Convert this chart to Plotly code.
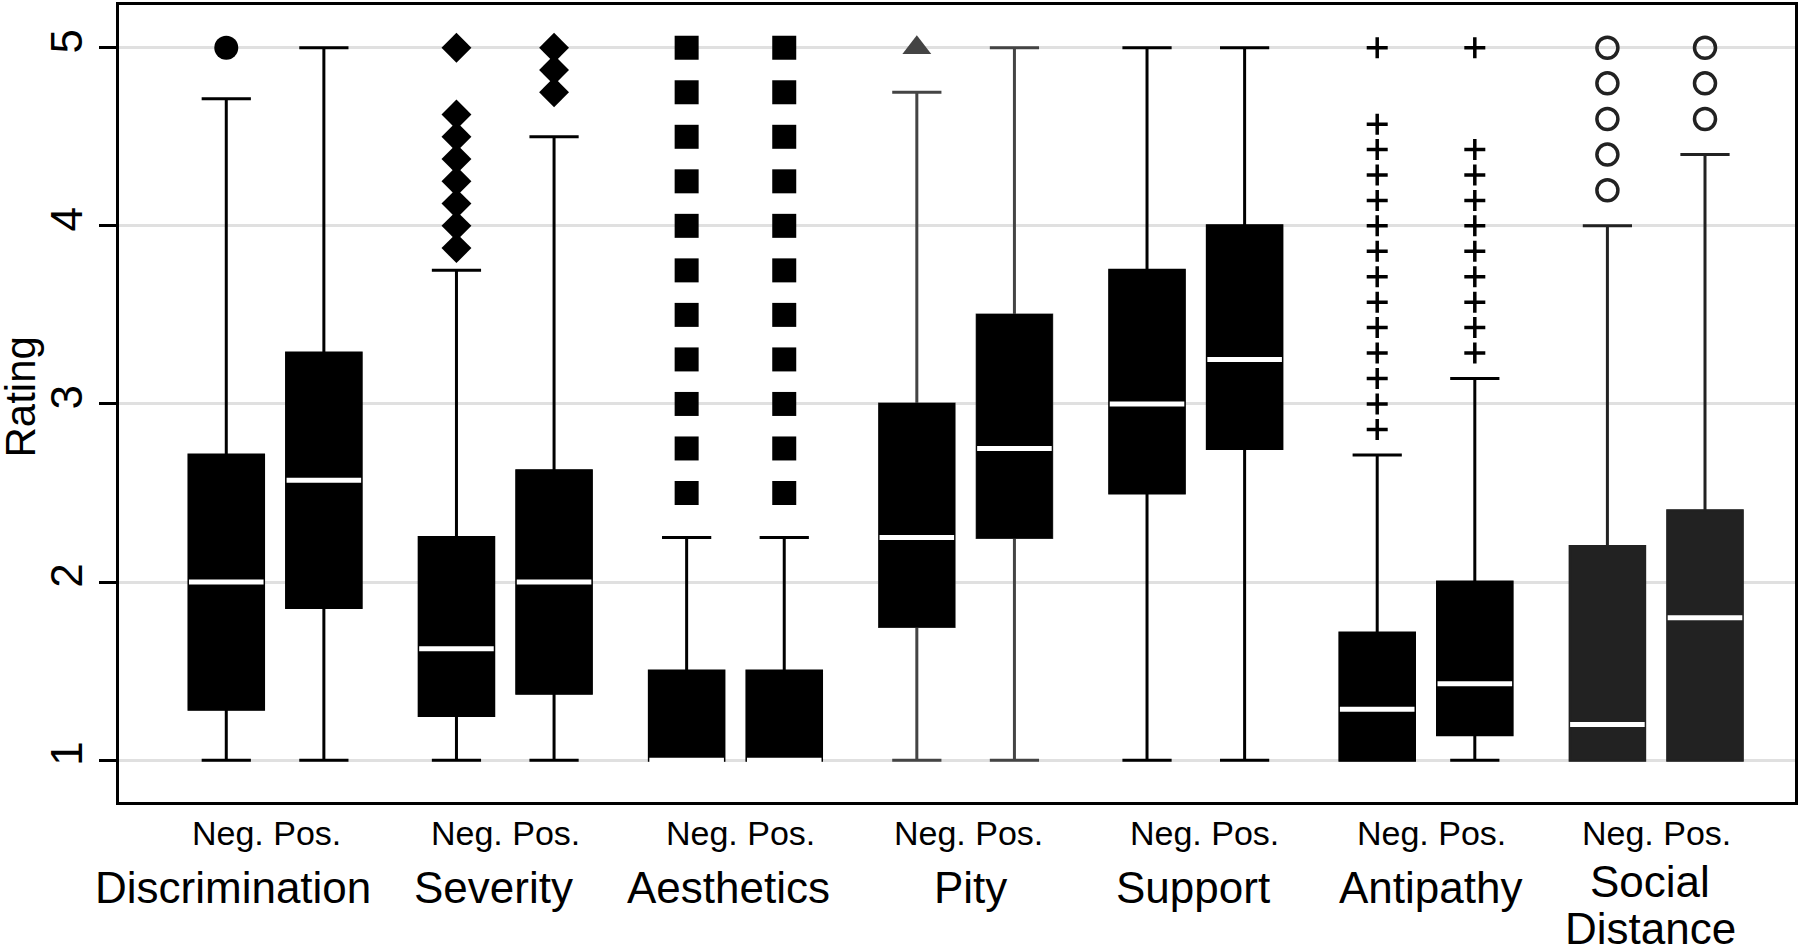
import plotly.graph_objects as go

categories = ["Discrimination", "Severity", "Aesthetics", "Pity", "Support", "Antipathy", "Social Distance"]
groups = ["Neg.", "Pos."]

# box statistics (ratings 1-5)
neg_q1 = [1.286, 1.25, 1.0, 1.75, 2.5, 1.0, 1.0]
neg_median = [2.0, 1.625, 1.0, 2.25, 3.0, 1.286, 1.2]
neg_q3 = [2.714, 2.25, 1.5, 3.0, 3.75, 1.714, 2.2]
neg_lower = [1.0, 1.0, 1.0, 1.0, 1.0, 1.0, 1.0]
neg_upper = [4.714, 3.75, 2.25, 4.75, 5.0, 2.714, 4.0]

pos_q1 = [1.857, 1.375, 1.0, 2.25, 2.75, 1.143, 1.0]
pos_median = [2.571, 2.0, 1.0, 2.75, 3.25, 1.429, 1.8]
pos_q3 = [3.286, 2.625, 1.5, 3.5, 4.0, 2.0, 2.4]
pos_lower = [1.0, 1.0, 1.0, 1.0, 1.0, 1.0, 1.0]
pos_upper = [5.0, 4.5, 2.25, 5.0, 5.0, 3.143, 4.4]

neg_outliers = [
    [5.0],
    [5.0, 4.625, 4.5, 4.375, 4.25, 4.125, 4.0, 3.875],
    [5.0, 4.75, 4.5, 4.25, 4.0, 3.75, 3.5, 3.25, 3.0, 2.75, 2.5],
    [5.0],
    [],
    [5.0, 4.571, 4.429, 4.286, 4.143, 4.0, 3.857, 3.714, 3.571, 3.429, 3.286, 3.143, 3.0, 2.857],
    [5.0, 4.8, 4.6, 4.4, 4.2],
]
pos_outliers = [
    [],
    [5.0, 4.875, 4.75],
    [5.0, 4.75, 4.5, 4.25, 4.0, 3.75, 3.5, 3.25, 3.0, 2.75, 2.5],
    [],
    [],
    [5.0, 4.429, 4.286, 4.143, 4.0, 3.857, 3.714, 3.571, 3.429, 3.286],
    [5.0, 4.8, 4.6],
]

y_ticks = [1, 2, 3, 4, 5]

# per-category look (stata-ish marker per scale)
markers = [
    dict(symbol="circle", size=24),
    dict(symbol="diamond", size=23),
    dict(symbol="square", size=24),
    dict(symbol="triangle-up", size=25),
    dict(symbol="circle", size=1),
    dict(symbol="cross-thin", size=15, line=dict(width=3.5)),
    dict(symbol="circle-open", size=21, line=dict(width=3.5)),
]
line_colors = ["black", "black", "black", "#444444", "black", "black", "#222222"]
fill_colors = ["black", "black", "black", "black", "black", "black", "#222222"]

FONT = "Liberation Sans, Arial, sans-serif"
offset = 0.212
box_w = 0.324

fig = go.Figure()

for i, cat in enumerate(categories):
    xs = [i - offset, i + offset]
    q1 = [neg_q1[i], pos_q1[i]]
    q3 = [neg_q3[i], pos_q3[i]]
    med = [neg_median[i], pos_median[i]]
    # whiskers + caps
    fig.add_trace(go.Box(
        x=xs, q1=q1, median=med, q3=q3,
        lowerfence=[neg_lower[i], pos_lower[i]],
        upperfence=[neg_upper[i], pos_upper[i]],
        width=box_w, whiskerwidth=0.66, boxpoints=False,
        fillcolor=fill_colors[i],
        line=dict(color=line_colors[i], width=3),
        name=cat, showlegend=False, hoverinfo="skip",
    ))
    # solid box body on top (no whiskers)
    fig.add_trace(go.Box(
        x=xs, q1=q1, median=med, q3=q3, lowerfence=q1, upperfence=q3,
        width=box_w, whiskerwidth=0, boxpoints=False,
        fillcolor=fill_colors[i],
        line=dict(color=fill_colors[i], width=2),
        name=cat, showlegend=False, hoverinfo="skip",
    ))

# white median bars drawn over the filled boxes
mx, my = [], []
for i in range(len(categories)):
    for j, med in enumerate([neg_median[i], pos_median[i]]):
        c = i + (offset if j else -offset)
        mx += [c - box_w / 2, c + box_w / 2, None]
        my += [med, med, None]
fig.add_trace(go.Scatter(x=mx, y=my, mode="lines", line=dict(color="white", width=5),
                         showlegend=False, hoverinfo="skip"))

for i, cat in enumerate(categories):
    for j, pts in enumerate([neg_outliers[i], pos_outliers[i]]):
        if not pts:
            continue
        c = i + (offset if j else -offset)
        mk = dict(markers[i])
        mk["color"] = line_colors[i]
        if "line" in mk:
            mk["line"] = dict(mk["line"], color=line_colors[i])
        fig.add_trace(go.Scatter(
            x=[c] * len(pts), y=pts, mode="markers", marker=mk,
            showlegend=False, hoverinfo="skip",
        ))

# x labels: "Neg. Pos." under each pair, category name below
pair_shift = [-9, 0, 5, 3, 9, 5, 0]
name_shift = [-42, -12, -7, 5, -3, 4, -6]
for i, cat in enumerate(categories):
    fig.add_annotation(x=i, y=0, xref="x", yref="paper", xshift=pair_shift[i], yshift=-31,
                       xanchor="center", yanchor="middle",
                       text=" ".join(groups), showarrow=False,
                       font=dict(family=FONT, size=34, color="black"))
    lines = cat.split(" ") if cat == "Social Distance" else [cat]
    for k, txt in enumerate(lines):
        fig.add_annotation(x=i, y=0, xref="x", yref="paper",
                           xshift=name_shift[i], yshift=-85 - 47 * k + (6 if len(lines) > 1 else 0),
                           xanchor="center", yanchor="middle", text=txt, showarrow=False,
                           font=dict(family=FONT, size=44, color="black"))

fig.add_annotation(x=0, y=0.5, xref="paper", yref="paper", xshift=-99, yshift=6,
                   xanchor="center", yanchor="middle",
                   text="Rating", textangle=-90, showarrow=False,
                   font=dict(family=FONT, size=42, color="black"))

fig.update_layout(
    width=1800, height=946,
    margin=dict(l=119, r=2, t=2, b=144),
    plot_bgcolor="white", paper_bgcolor="white",
    font=dict(family=FONT, color="black"),
    boxmode="overlay",
)
fig.update_xaxes(range=[-0.678, 6.603], showticklabels=False, ticks="", showgrid=False,
                 zeroline=False, showline=True, mirror=True, linecolor="black", linewidth=2.5)
fig.update_yaxes(range=[0.765, 5.24], tickvals=y_ticks, ticktext=[str(v) for v in y_ticks],
                 tickangle=-90, ticks="outside", ticklen=17, tickwidth=2.5, tickcolor="black",
                 ticklabelstandoff=0, tickfont=dict(family=FONT, size=44, color="black"),
                 showgrid=True, gridcolor="#e0e0e0", gridwidth=3, zeroline=False,
                 showline=True, mirror=True, linecolor="black", linewidth=2.5)

fig.write_html("out.html", config={"displayModeBar": False},
               post_script="document.body.style.margin='0';document.body.style.overflow='hidden';")
